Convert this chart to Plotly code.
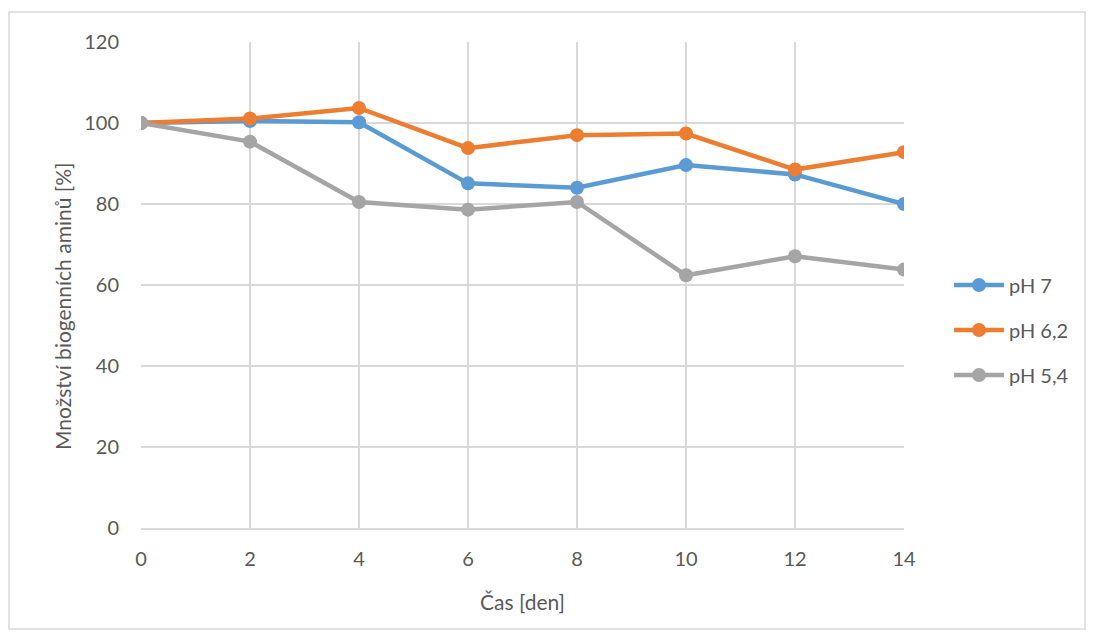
import plotly.graph_objects as go

days = [0, 2, 4, 6, 8, 10, 12, 14]
ph7 = [100, 100.5, 100.2, 85.1, 84.0, 89.6, 87.3, 80.0]
ph62 = [100, 101.1, 103.7, 93.8, 97.0, 97.4, 88.5, 92.8]
ph54 = [100, 95.4, 80.5, 78.6, 80.5, 62.4, 67.1, 63.8]
names = ["pH 7", "pH 6,2", "pH 5,4"]
colors = ["#5B9BD5", "#ED7D31", "#A5A5A5"]

fig = go.Figure()
for name, vals, c in zip(names, [ph7, ph62, ph54], colors):
    fig.add_trace(go.Scatter(x=days, y=vals, name=name, mode="lines+markers",
                             legendgroup=name,
                             line=dict(color=c, width=4.5),
                             marker=dict(color=c, size=14)))

# figure-local pixel geometry (page has 8px body margin)
W, H = 1078, 622
L, R, T, B = 133, 896, 34, 520
pw, ph = R - L, B - T
def px(x): return (x - L) / pw
def py(y): return (B - y) / ph

txt = "#595959"
grid = "#D9D9D9"
fig.update_layout(
    width=W, height=H,
    margin=dict(l=L, r=W - R, t=T, b=H - B, autoexpand=False),
    paper_bgcolor="white", plot_bgcolor="white",
    font=dict(family="Lato, Open Sans, sans-serif", size=20, color=txt),
    legend=dict(x=941 / W, y=1 - 322 / H, xref="container", yref="container",
                xanchor="left", yanchor="middle",
                font=dict(size=20, color=txt), itemwidth=50,
                tracegroupgap=16, bgcolor="rgba(0,0,0,0)"),
    xaxis=dict(range=[0, 14], tickvals=days, showgrid=True, gridcolor=grid,
               gridwidth=1.5, zeroline=False, showline=True, linecolor=grid,
               linewidth=1.5, ticks="", ticklabelstandoff=12,
               tickfont=dict(size=20, color=txt)),
    yaxis=dict(range=[0, 120], tickvals=[0, 20, 40, 60, 80, 100, 120], showgrid=True,
               gridcolor=grid, gridwidth=1.5, zeroline=False, showline=False,
               ticks="", ticklabelstandoff=21, tickfont=dict(size=20, color=txt)),
    annotations=[
        dict(text="Čas [den]", xref="paper", yref="paper", x=px(514), y=py(593),
             xanchor="center", yanchor="middle", showarrow=False,
             font=dict(size=21, color=txt)),
        dict(text="Množství biogenních aminů [%]", xref="paper", yref="paper",
             x=px(54), y=py(299), xanchor="center", yanchor="middle",
             showarrow=False, textangle=-90, font=dict(size=21, color=txt)),
    ],
    shapes=[dict(type="rect", xref="paper", yref="paper",
                 x0=px(1), x1=px(1077), y0=py(621), y1=py(4),
                 line=dict(color=grid, width=1.5), fillcolor="rgba(0,0,0,0)", layer="below")],
)
fig.write_html("out.html")
